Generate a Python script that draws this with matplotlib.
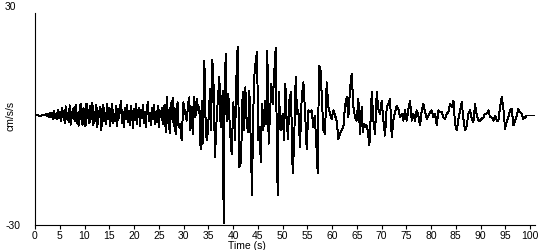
import numpy as np
import matplotlib
matplotlib.use("Agg")
import matplotlib.pyplot as plt

plt.rcParams['font.family'] = ['Liberation Sans', 'DejaVu Sans']

# ---- data ----
# quiet start
t_start = [0.0, 0.5, 1.0, 1.5, 1.8]
a_start = [0.0, 0.05, -0.05, 0.05, 0.0]

# early part, sampled every 0.2 s from 2.0 to 29.0 s
dt_early = 0.2
a_early = [
    0, 0.3, -0.2, 0.5, -0.4, 0.8, -0.3, 0.6, -0.9, 1.2, -0.6, 0.4, -1.0, 1.5, -0.8, 1.1,
    -1.6, 2.0, -0.5, 1.3, -2.2, 2.5, -1.0, 0.6, -1.8, 2.8, -2.5, 1.0, -0.7, 2.2, -1.5,
    3.0, -2.0, 0.8, -2.8, 1.5, 3.2, -1.2, -2.5, 2.0, 0.5, -3.0, 3.3, -0.8, 1.6, -2.2,
    2.6, -1.0, 3.4, -2.6, 0.9, -1.5, 2.9, -3.2, 1.2, -0.4, 2.3, -4.1, 1.8, 3.0, -1.6,
    0.7, -2.4, 3.1, -1.1, 2.0, -2.9, 1.4, 3.3, -2.0, 0.3, -1.4, 2.7, -3.0, 1.9, -0.6,
    2.4, 4.0, -2.2, 1.0, -3.3, 2.1, -0.9, 3.0, -1.8, 1.3, -2.7, 2.5, 0.4, -3.4, 1.7,
    -1.2, 3.2, -2.3, 0.8, 2.2, -3.0, 1.5, -0.7, 2.8, -2.1, 1.0, -3.1, 2.4, 3.6, -1.5,
    0.6, -2.6, 2.0, -1.1, 3.0, -2.3, 0.9, -1.7, 2.5, -3.3, 1.4, -0.5, 2.1, -2.4, 1.2,
    3.0, -4.5, 5.0, -2.0, 1.6, -4.8, 3.5, -1.0, 4.8, -3.0, 2.0, -5.2, 1.5, 3.6, -3.2,
]

# strong motion part
t_strong = [
    29.29, 29.63, 29.96, 30.30, 30.64, 30.97, 31.18, 31.31, 31.65, 31.85,
    32.12, 32.39, 32.66, 32.99, 33.20, 33.33, 33.47, 33.67, 33.87, 34.00,
    34.21, 34.47, 34.68, 34.88, 35.15, 35.35, 35.55, 35.82, 36.09, 36.36,
    36.70, 36.97, 37.24, 37.50,
    37.77, 37.91, 38.11, 38.31, 38.52, 38.78, 39.05, 39.39, 39.73, 40.06,
    40.40, 40.74, 40.94, 41.28, 41.61, 41.95, 42.22, 42.49, 42.76, 43.03,
    43.30, 43.57, 43.84, 44.04, 44.31, 44.58, 44.85, 45.11, 45.38, 45.59,
    45.86, 46.12, 46.46, 46.73, 46.93, 47.20, 47.47, 47.74, 48.01, 48.35,
    48.62, 48.82, 49.02, 49.29, 49.49, 49.76, 50.03, 50.30, 50.57, 50.84,
    51.11, 51.38, 51.71, 52.05, 52.32, 52.66, 52.93, 53.20, 53.53, 53.87,
    54.21, 54.54, 54.88, 55.22, 55.55, 55.89, 56.23, 56.49, 56.76, 57.10,
    57.37, 57.64, 57.91, 58.25, 58.58, 58.92, 59.26, 59.59, 59.93, 60.27,
    60.60, 60.94, 61.28, 61.61, 61.95, 62.29, 62.62, 62.96, 63.30, 63.63,
]
a_strong = [
    -2.3, -6.8, 3.6, 0.9, -1.4, 3.6, 5.0, -4.1, 2.3, -5.0,
    5.0, -0.5, 4.5, 1.4, 2.3, -5.9, -9.1, 4.1, -7.7, -4.1,
    15.0, -2.3, -6.8, -5.0, 1.4, 7.3, -4.1, 15.3, 7.7, -11.4,
    -0.5, 5.0, 10.5, -3.2,
    2.3, 6.8, -29.4, 5.0, 16.8, -1.4, 5.9, -4.1, -10.5, 3.6,
    -6.8, 13.2, 18.8, -14.1, -12.7, 6.4, -4.1, 7.7, -2.3, -4.5,
    6.8, -6.8, -21.8, -1.4, 10.9, 15.0, 17.3, -6.8, -3.2, -12.7,
    3.2, -4.1, 4.1, -2.3, 17.7, -7.7, 0.5, 8.6, 3.2, 12.3,
    18.6, -3.2, -21.8, 6.4, -1.4, -4.1, 0.5, -6.8, 8.6, -1.4,
    -6.4, 4.1, 6.4, -15.9, -8.6, 10.5, 0.5, 1.4, -8.6, 5.0,
    9.1, 1.4, -9.1, 1.4, 0.9, 1.4, -3.2, 0.0, -5.9, -15.7,
    13.6, 13.2, 5.9, -4.1, -5.0, 9.1, 2.3, 0.5, -0.9, 1.4,
    0.0, -1.4, -6.4, -5.0, -4.1, -3.2, 2.7, 5.0, -0.5, 7.3,
]

# coda part
t_coda = [
    63.98, 64.31, 64.65, 64.99, 65.32, 65.66, 66.00, 66.20, 66.47, 66.74,
    67.01, 67.21, 67.55, 67.81, 68.02, 68.35, 68.69, 69.03, 69.36, 69.70,
    70.04, 70.37, 70.71, 71.05, 71.38, 71.72, 72.06, 72.39, 72.73, 73.07,
    73.40, 73.74, 74.08, 74.41, 74.75, 75.09, 75.42, 75.76, 76.10, 76.43,
    76.77, 77.11, 77.44, 77.78, 78.12, 78.45, 78.79, 79.13, 79.46, 79.80,
    80.14, 80.47, 80.81, 81.15, 81.49, 81.82, 82.16, 82.50, 82.83, 83.17,
    83.51, 83.84, 84.18, 84.52, 84.85, 85.19, 85.53, 85.86, 86.20, 86.54,
    86.87, 87.21, 87.55, 87.88, 88.22, 88.56, 88.89, 89.23, 89.57, 89.90,
    90.24, 90.58, 90.91, 91.25, 91.59, 91.92, 92.26, 92.60, 92.93, 93.27,
    93.61, 93.94, 94.28, 94.62, 94.95, 95.29, 95.62, 95.96, 96.30, 96.63,
    96.97, 97.31, 97.64, 97.98, 98.32, 98.65, 98.99, 99.33, 100.0, 100.9,
]
a_coda = [
    11.4, 2.3, -0.5, -1.4, 4.5, -5.0, 2.3, -4.5, -2.3, -3.2,
    -2.7, -4.1, -8.2, -0.5, 6.4, -1.4, -5.0, 6.4, 1.8, 0.5,
    4.1, -1.4, -5.5, 2.3, 3.2, 4.5, -5.9, -1.4, 0.9, 2.7,
    1.8, -0.5, 0.5, -1.4, 1.4, -1.4, 1.8, 4.1, -1.4, 0.5,
    -1.4, 1.4, 0.0, -2.7, 1.4, 3.2, 0.9, -0.9, 0.0, 0.9,
    1.4, -0.5, 0.5, -2.7, 1.4, 0.9, 0.9, -0.5, -0.9, 0.5,
    0.9, 3.2, 2.3, 4.1, -2.3, -4.1, -0.9, 1.4, 3.6, -0.9,
    -4.1, -2.7, 0.5, 1.4, -0.9, -1.8, 3.2, 0.0, -1.4, -1.4,
    -0.9, -0.5, 0.5, 0.5, 1.4, -0.5, -0.5, -1.4, 0.0, -1.4,
    -1.4, 2.3, 5.0, 1.8, -3.6, -1.8, -0.5, 1.4, 1.8, -2.7,
    -1.4, 0.0, 1.8, 0.9, 0.5, -0.9, -0.5, 0.0, 0.0, 0.0,
]

y_ticks = [-30, 30]
x_ticks = list(range(0, 101, 5))

# ---- assemble ----
t_early = np.round(2.0 + dt_early * np.arange(len(a_early)), 2)
t = np.concatenate([t_start, t_early, t_strong, t_coda])
a = np.concatenate([a_start, a_early, a_strong, a_coda])

fig = plt.figure(figsize=(5.5, 2.5), dpi=100)
ax = fig.add_axes([35/550, 1-225/250, 500/550, 219/250])
ax.plot(t, a, color='black', lw=0.7, antialiased=False)
ax.set_xlim(0, 101)
ax.set_ylim(-30, 30)

for s in ['top', 'right']:
    ax.spines[s].set_visible(False)
for s in ['left', 'bottom']:
    ax.spines[s].set_linewidth(0.8)
    ax.spines[s].set_color('black')
ax.spines['left'].set_bounds(-30, 28)

ax.set_xticks(x_ticks)
ax.set_xticklabels([str(v) for v in x_ticks])
ax.set_yticks(y_ticks)
ax.set_yticklabels([str(v) for v in y_ticks])
ax.tick_params(axis='x', length=3, width=0.8, pad=1.5, labelsize=7.5, direction='out')
ax.tick_params(axis='y', length=0, pad=21.5, labelsize=7.5)
for lbl in ax.get_yticklabels():
    lbl.set_horizontalalignment('left')

ax.set_ylabel('cm/s/s', fontsize=7.5)
ax.yaxis.set_label_coords(-0.038, 0.5)
ax.set_xlabel('Time (s)', fontsize=7.5, va='top')
ax.xaxis.set_label_coords(0.424, -0.072)

fig.savefig('out.png', dpi=100)
